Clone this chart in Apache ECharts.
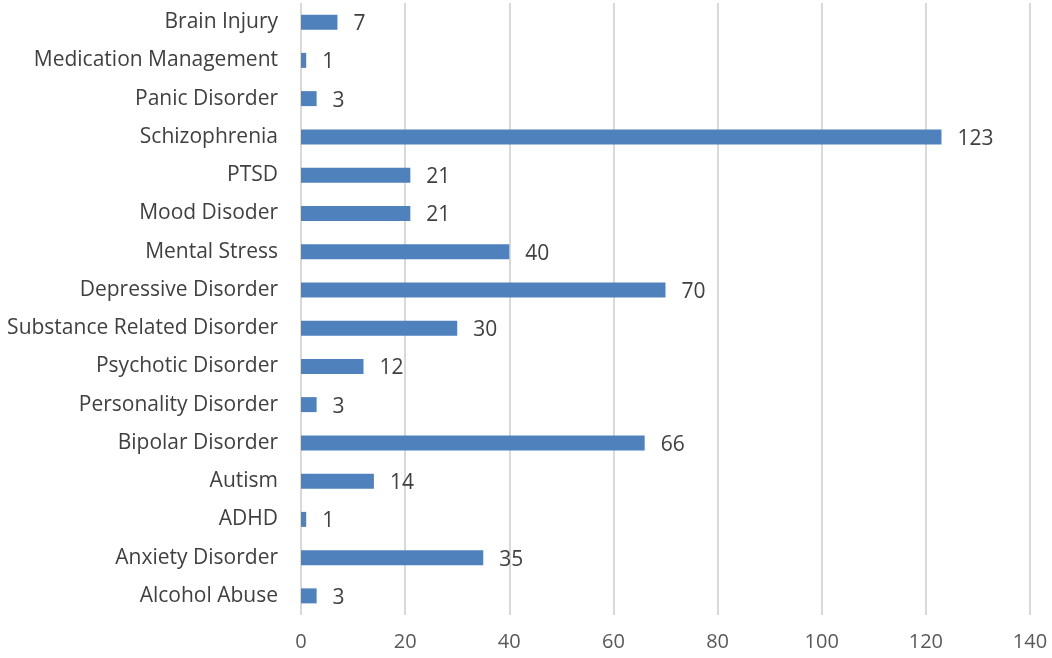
<!DOCTYPE html>
<html>
<head>
<meta charset="utf-8">
<script src="https://cdn.jsdelivr.net/npm/echarts@6/dist/echarts.min.js"></script>
<style>
  html, body { margin: 0; padding: 0; background: #fff; }
  #chart { width: 1052px; height: 658px; }
</style>
</head>
<body>
<div id="chart"></div>
<script>
// categories bottom to top, as in the picture
var categories = ['Alcohol Abuse', 'Anxiety Disorder', 'ADHD', 'Autism', 'Bipolar Disorder',
    'Personality Disorder', 'Psychotic Disorder', 'Substance Related Disorder', 'Depressive Disorder',
    'Mental Stress', 'Mood Disoder', 'PTSD', 'Schizophrenia', 'Panic Disorder',
    'Medication Management', 'Brain Injury'];
var counts = [3, 35, 1, 14, 66, 3, 12, 30, 70, 40, 21, 21, 123, 3, 1, 7];
var xTicks = [0, 20, 40, 60, 80, 100, 120, 140];

var font = 'Open Sans, Lato, sans-serif';
var chart = echarts.init(document.getElementById('chart'));

chart.setOption({
    backgroundColor: '#fff',
    animation: false,
    grid: { left: 301, right: 22, top: 3, bottom: 43, containLabel: false },
    xAxis: {
        type: 'value',
        min: xTicks[0],
        max: xTicks[xTicks.length - 1],
        interval: 20,
        axisLine: { show: false },
        axisTick: { show: false },
        axisLabel: { color: '#595959', fontSize: 20, fontFamily: font, margin: 17 },
        splitLine: { lineStyle: { color: '#d9d9d9', width: 2 } }
    },
    yAxis: {
        type: 'category',
        data: categories,
        axisLine: { show: false },
        axisTick: { show: false },
        axisLabel: { color: '#404040', fontSize: 21, fontFamily: font, margin: 23 }
    },
    series: [{
        type: 'bar',
        data: counts,
        barWidth: 15,
        itemStyle: { color: '#4f81bd' },
        label: {
            show: true,
            position: 'right',
            distance: 16,
            offset: [0, 2],
            color: '#404040',
            fontSize: 21,
            fontFamily: font
        }
    }]
});
</script>
</body>
</html>
